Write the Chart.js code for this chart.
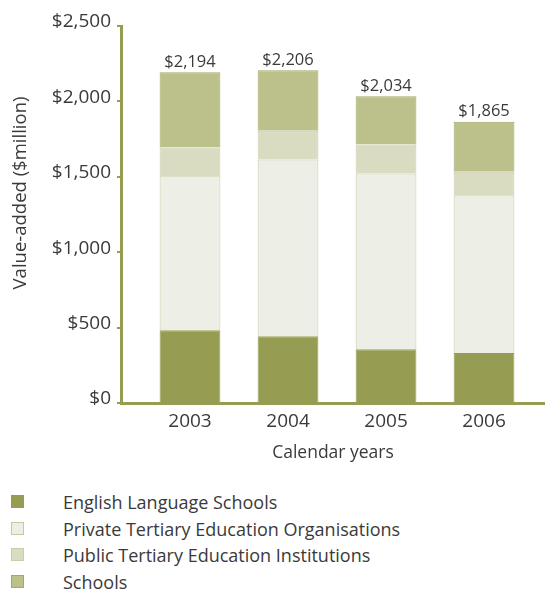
<!DOCTYPE html>
<html>
<head>
<meta charset="utf-8">
<script src="https://cdn.jsdelivr.net/npm/chart.js@4.4.1/dist/chart.umd.min.js"></script>
<style>
    body { margin: 0; background: #fff; }
    #wrap { position: relative; width: 545px; height: 594px; }
    #chart { position: absolute; left: 0; top: 0; }
    #legend { position: absolute; left: 0; top: 489px; font-family: "Open Sans", sans-serif; font-size: 18px; color: #3a3a3a; }
    .item { position: relative; height: 26.7px; }
    .box { position: absolute; left: 11px; top: 6px; width: 13px; height: 13px; box-sizing: border-box; }
    .label { position: absolute; left: 63px; top: 0; white-space: nowrap; line-height: 26px; }
</style>
</head>
<body>
<div id="wrap">
    <canvas id="chart" width="545" height="470"></canvas>
    <div id="legend"></div>
</div>
<script>
// ==============================
// Data
// ==============================

const years = [2003, 2004, 2005, 2006];

const englishSchools = [482, 443, 356, 332];
const privateTertiary = [1022, 1172, 1166, 1046];
const publicTertiary = [191, 190, 193, 155];
const schools = [499, 401, 319, 332];

const totals = [2194, 2206, 2034, 1865];

const yTicks = [0, 500, 1000, 1500, 2000, 2500];

const seriesNames = [
    "English Language Schools",
    "Private Tertiary Education Organisations",
    "Public Tertiary Education Institutions",
    "Schools"
];

const fills = ["#969c51", "#edeee6", "#d9dcc0", "#bcc08b"];
const borders = ["#969c51", "#c6caa0", "#c9cda8", "#a4a964"];

const olive = "#969c51";
const textColor = "#3a3a3a";
const fontFamily = "'Open Sans', sans-serif";

// ==============================
// Helpers
// ==============================

function money(v) {
    return "$" + v.toLocaleString("en-US");
}

function points(values) {
    return years.map((yr, i) => ({ x: yr, y: values[i] }));
}

// ==============================
// Plugins
// ==============================

// totals above each bar
const totalLabels = {
    id: "totalLabels",
    afterDatasetsDraw(chart) {
        const ctx = chart.ctx;
        const meta = chart.getDatasetMeta(chart.data.datasets.length - 1);
        ctx.save();
        ctx.font = "16.5px " + fontFamily;
        ctx.fillStyle = textColor;
        ctx.textAlign = "center";
        ctx.textBaseline = "bottom";
        meta.data.forEach((bar, i) => {
            ctx.fillText(money(totals[i]), bar.x, bar.y - 2);
        });
        ctx.restore();
    }
};

// rotated y axis title
const yTitle = {
    id: "yTitle",
    afterDraw(chart) {
        const ctx = chart.ctx;
        ctx.save();
        ctx.translate(21, 193);
        ctx.rotate(-Math.PI / 2);
        ctx.font = "18.5px " + fontFamily;
        ctx.fillStyle = textColor;
        ctx.textAlign = "center";
        ctx.textBaseline = "middle";
        ctx.fillText("Value-added ($million)", 0, 0);
        ctx.restore();
    }
};

// ==============================
// Chart
// ==============================

const datasets = [englishSchools, privateTertiary, publicTertiary, schools].map((values, i) => ({
    label: seriesNames[i],
    data: points(values),
    backgroundColor: fills[i],
    borderColor: borders[i],
    borderWidth: 1,
    barPercentage: 0.62,
    categoryPercentage: 1
}));

new Chart(document.getElementById("chart"), {
    type: "bar",
    data: { datasets: datasets },
    plugins: [totalLabels, yTitle],
    options: {
        responsive: false,
        animation: false,
        layout: {
            padding: { top: 26, right: 0, bottom: 0, left: 0 }
        },
        plugins: {
            legend: { display: false },
            tooltip: { enabled: false }
        },
        scales: {
            x: {
                type: "linear",
                stacked: true,
                offset: false,
                min: 2002.296,
                max: 2006.622,
                afterBuildTicks: scale => {
                    scale.ticks = years.map(v => ({ value: v }));
                },
                afterFit: scale => {
                    scale.height = 67;
                },
                grid: { display: false, offset: false },
                border: { display: true, color: olive, width: 3 },
                ticks: {
                    padding: -1,
                    color: textColor,
                    font: { family: fontFamily, size: 19 },
                    callback: v => String(v)
                },
                title: {
                    display: true,
                    text: "Calendar years",
                    color: textColor,
                    font: { family: fontFamily, size: 17.5 },
                    padding: { top: 0, bottom: 6 }
                }
            },
            y: {
                stacked: true,
                min: 0,
                max: 2500,
                afterBuildTicks: scale => {
                    scale.ticks = yTicks.map(v => ({ value: v }));
                },
                afterFit: scale => {
                    scale.width = 121;
                },
                grid: {
                    drawOnChartArea: false,
                    drawTicks: true,
                    tickLength: 4,
                    color: olive,
                    lineWidth: 2
                },
                border: { display: true, color: olive, width: 3 },
                ticks: {
                    padding: 6,
                    labelOffset: -4,
                    color: textColor,
                    font: { family: fontFamily, size: 19 },
                    callback: v => money(v)
                }
            }
        }
    }
});

// ==============================
// Legend
// ==============================

const legend = document.getElementById("legend");

seriesNames.forEach((name, i) => {
    const item = document.createElement("div");
    item.className = "item";
    const box = document.createElement("div");
    box.className = "box";
    box.style.background = fills[i];
    box.style.border = "1px solid " + borders[i];
    const label = document.createElement("div");
    label.className = "label";
    label.innerText = name;
    item.appendChild(box);
    item.appendChild(label);
    legend.appendChild(item);
});
</script>
</body>
</html>
